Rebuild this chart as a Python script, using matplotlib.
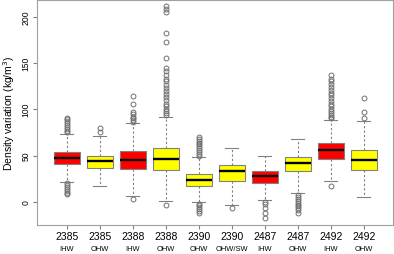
import matplotlib.pyplot as plt
import numpy as np

plt.rcParams['font.family'] = ['Liberation Sans', 'DejaVu Sans']

stations = ['2385', '2385', '2388', '2388', '2390', '2390', '2487', '2487', '2492', '2492']
waters = ['IHW', 'OHW', 'IHW', 'OHW', 'OHW', 'OHW/SW', 'IHW', 'OHW', 'IHW', 'OHW']
colors = ['red', 'yellow', 'red', 'yellow', 'yellow', 'yellow', 'red', 'yellow', 'red', 'yellow']

q1 = [40.4, 36.0, 35.0, 34.6, 17.6, 22.0, 20.5, 32.8, 45.8, 33.9]
med = [47.2, 43.6, 45.4, 46.5, 23.8, 33.2, 27.4, 41.8, 55.5, 44.7]
q3 = [53.7, 50.0, 54.8, 58.0, 30.3, 40.0, 33.2, 48.3, 63.4, 55.5]
whislo = [21.3, 16.6, 6.0, 1.0, -0.4, -4.0, 2.0, 9.4, 22.0, 5.7]
whishi = [73.5, 71.4, 85.0, 92.0, 48.3, 58.0, 50.0, 67.4, 88.0, 87.0]

outliers = [
    [75, 77, 79, 81, 83, 85, 87, 89, 91, 8, 10, 12, 14, 16, 18, 20],
    [75, 80],
    [86, 88, 90, 92, 95, 97, 106, 114, 2.5],
    [94, 96, 98, 100, 103, 106, 110, 113, 116, 120, 123, 126, 130, 133,
     137, 141, 145, 155, 173, 182, 205, 208, 211, -3],
    [50, 52, 54, 56, 58, 60, 62, 64, 66, 68, 70, -2, -4, -6, -8, -10, -12],
    [-7],
    [0, -2, -7, -12, -17],
    [7, 5, 3, 1, -1, -3, -5, -7, -9, -12],
    [90, 92, 94, 96, 98, 100, 103, 106, 109, 112, 115, 118, 121, 124,
     127, 130, 133, 137, 17],
    [91, 97, 112],
]

stats = []
for i in range(len(stations)):
    stats.append({'med': med[i], 'q1': q1[i], 'q3': q3[i],
                  'whislo': whislo[i], 'whishi': whishi[i],
                  'fliers': np.array(outliers[i])})

fig = plt.figure(figsize=(3.94, 2.55), dpi=100)
ax = fig.add_axes([0.094, 0.114, 0.903, 0.882])

bp = ax.bxp(stats, positions=np.arange(1, 11), widths=0.8, patch_artist=True,
            boxprops=dict(edgecolor='#808080', linewidth=0.8),
            medianprops=dict(color='black', linewidth=1.7),
            whiskerprops=dict(color='#808080', linestyle=(0, (2, 2)), linewidth=0.8),
            capprops=dict(color='#808080', linewidth=0.8),
            capwidths=0.4,
            flierprops=dict(marker='o', markerfacecolor='none', markeredgecolor='#707070',
                            markersize=3.5, markeredgewidth=0.7))
for patch, c in zip(bp['boxes'], colors):
    patch.set_facecolor(c)

ax.set_xlim(0.1, 10.88)
ax.set_ylim(-25, 218)
ax.set_yticks([0, 50, 100, 150, 200])
ax.set_yticklabels(['0', '50', '100', '150', '200'], rotation=90, va='center', fontsize=6.2)
ax.set_xticks(np.arange(1, 11))
ax.set_xticklabels(stations, fontsize=7.5)
for i, w in enumerate(waters):
    ax.text(i + 1, -0.107, w, transform=ax.get_xaxis_transform(), ha='center', va='center',
            fontsize=5.4)
ax.tick_params(length=3, color='#808080', pad=1.5)
for s in ax.spines.values():
    s.set_color('#a0a0a0')
ax.set_ylabel('Density variation (kg/m$^3$)', fontsize=7.5)
ax.yaxis.set_label_coords(-0.057, 0.5)

fig.savefig('out.png', dpi=100)
